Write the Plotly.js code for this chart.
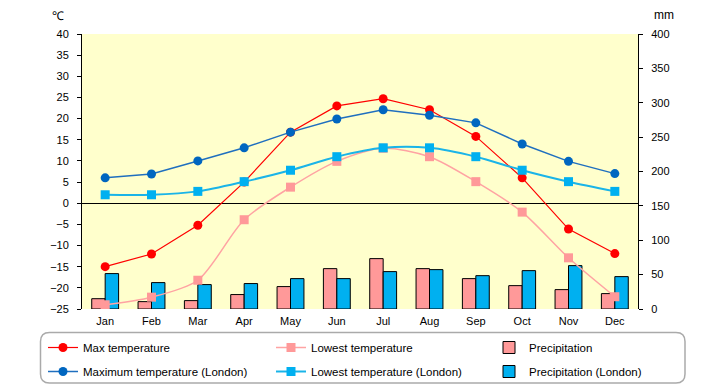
<!DOCTYPE html>
<html>
<head>
<meta charset="utf-8">
<script src="https://cdn.plot.ly/plotly-3.0.1.min.js"></script>
<style>html,body{margin:0;padding:0;background:#fff;}#chart{width:720px;height:385px;}</style>
</head>
<body>
<div id="chart"></div>
<script>
const months = ["Jan","Feb","Mar","Apr","May","Jun","Jul","Aug","Sep","Oct","Nov","Dec"];
const maxTemp = [-15, -12, -5.2, 5, 16.8, 23, 24.7, 22.1, 15.8, 6, -6.1, -11.9];
const lowTemp = [-24, -22.2, -18.2, -3.9, 3.8, 9.9, 13, 11, 5.1, -2.1, -12.9, -22.1];
const maxTempLondon = [6, 6.9, 10, 13.1, 16.8, 19.9, 22.1, 20.8, 19, 14, 9.9, 7];
const lowTempLondon = [2, 2, 2.8, 5.1, 7.8, 11, 13.1, 13.1, 11, 7.8, 5.1, 2.8];
const precip = [15, 10.7, 12.2, 21, 32.6, 58.7, 73.3, 58.7, 44.2, 34, 28.2, 22.4];
const precipLondon = [51.5, 38.4, 35.5, 37, 44.2, 44.2, 54.4, 57.3, 48.5, 55.8, 63.1, 47.1];

const FONT = "Liberation Sans, Arial, sans-serif";

const traces = [
  {type:"bar", name:"Precipitation", x:months, y:precip, yaxis:"y", legend:"legend3", legendgroup:"p1",
   marker:{color:"#FF9999", line:{color:"#000", width:1}}},
  {type:"bar", name:"Precipitation (London)", x:months, y:precipLondon, yaxis:"y", legend:"legend3", legendgroup:"p2",
   marker:{color:"#00B0F0", line:{color:"#000", width:1}}},
  {type:"scatter", mode:"lines+markers", name:"Max temperature", x:months, y:maxTemp, yaxis:"y2", legend:"legend", legendgroup:"a1",
   line:{color:"#FF0000", width:1.2}, marker:{color:"#FF0000", size:9, symbol:"circle"}},
  {type:"scatter", mode:"lines+markers", name:"Lowest temperature", x:months, y:lowTemp, yaxis:"y2", legend:"legend2", legendgroup:"b1",
   line:{color:"#FFA3A3", width:1.5, shape:"spline", smoothing:0.8}, marker:{color:"#FF9999", size:9, symbol:"square"}},
  {type:"scatter", mode:"lines+markers", name:"Maximum temperature (London)", x:months, y:maxTempLondon, yaxis:"y2", legend:"legend", legendgroup:"a2",
   line:{color:"#1F6FBF", width:1.5}, marker:{color:"#0066C0", size:9, symbol:"circle"}},
  {type:"scatter", mode:"lines+markers", name:"Lowest temperature (London)", x:months, y:lowTempLondon, yaxis:"y2", legend:"legend2", legendgroup:"b2",
   line:{color:"#1AB4E8", width:2, shape:"spline", smoothing:0.8}, marker:{color:"#00B0F0", size:9, symbol:"square"}}
];

const L = 82, R = 638, T = 34, B = 309;
const px = x => (x - L) / (R - L);
const py = y => (B - y) / (B - T);
function roundRect(x0, y0, x1, y1, r) {
  return `M ${px(x0 + r)} ${py(y0)} L ${px(x1 - r)} ${py(y0)} Q ${px(x1)} ${py(y0)} ${px(x1)} ${py(y0 + r)} ` +
         `L ${px(x1)} ${py(y1 - r)} Q ${px(x1)} ${py(y1)} ${px(x1 - r)} ${py(y1)} ` +
         `L ${px(x0 + r)} ${py(y1)} Q ${px(x0)} ${py(y1)} ${px(x0)} ${py(y1 - r)} ` +
         `L ${px(x0)} ${py(y0 + r)} Q ${px(x0)} ${py(y0)} ${px(x0 + r)} ${py(y0)} Z`;
}

const legendBase = {
  orientation:"v", yanchor:"top", xanchor:"left", y:py(333),
  bgcolor:"rgba(0,0,0,0)", borderwidth:0, tracegroupgap:5,
  font:{family:FONT, size:11.5, color:"#000"}, itemclick:false, itemdoubleclick:false
};

const layout = {
  width:720, height:385,
  margin:{l:L, r:720 - R, t:T, b:385 - B, autoexpand:false},
  paper_bgcolor:"#FFFFFF", plot_bgcolor:"#FFFFCC",
  font:{family:FONT, size:11, color:"#000"},
  barmode:"group", bargap:0.42, bargroupgap:0,
  showlegend:true,
  xaxis:{type:"category", range:[-0.5, 11.5], showline:false, ticks:"", showgrid:false, zeroline:false,
         ticklabelstandoff:4, tickfont:{family:FONT, size:11, color:"#000"}},
  yaxis:{side:"right", range:[0, 400], dtick:50, tick0:0, showline:true, linecolor:"#000", linewidth:1,
         ticks:"outside", ticklen:4, tickcolor:"#000", showgrid:false, zeroline:false,
         ticklabelstandoff:6, tickfont:{family:FONT, size:11, color:"#000"}},
  yaxis2:{overlaying:"y", side:"left", range:[-25, 40], dtick:5, tick0:0, showline:true, linecolor:"#000", linewidth:1,
          ticks:"outside", ticklen:4, tickcolor:"#000", showgrid:false, zeroline:true, zerolinecolor:"#000", zerolinewidth:1,
          ticklabelstandoff:6, tickfont:{family:FONT, size:11, color:"#000"}},
  legend:Object.assign({}, legendBase, {x:px(43)}),
  legend2:Object.assign({}, legendBase, {x:px(271)}),
  legend3:Object.assign({}, legendBase, {x:px(489)}),
  shapes:[{type:"path", xref:"paper", yref:"paper", path:roundRect(40.5, 332.5, 685, 383, 9),
           line:{color:"#AAAAAA", width:1.5}, fillcolor:"rgba(0,0,0,0)", layer:"below"}],
  annotations:[
    {xref:"paper", yref:"paper", x:px(50), y:py(16), xanchor:"left", yanchor:"middle", showarrow:false,
     text:"℃", font:{family:FONT, size:12, color:"#000"}},
    {xref:"paper", yref:"paper", x:px(652), y:py(15), xanchor:"left", yanchor:"middle", showarrow:false,
     text:"mm", font:{family:FONT, size:12, color:"#000"}}
  ]
};

Plotly.newPlot("chart", traces, layout, {staticPlot:true, displayModeBar:false});
</script>
</body>
</html>
